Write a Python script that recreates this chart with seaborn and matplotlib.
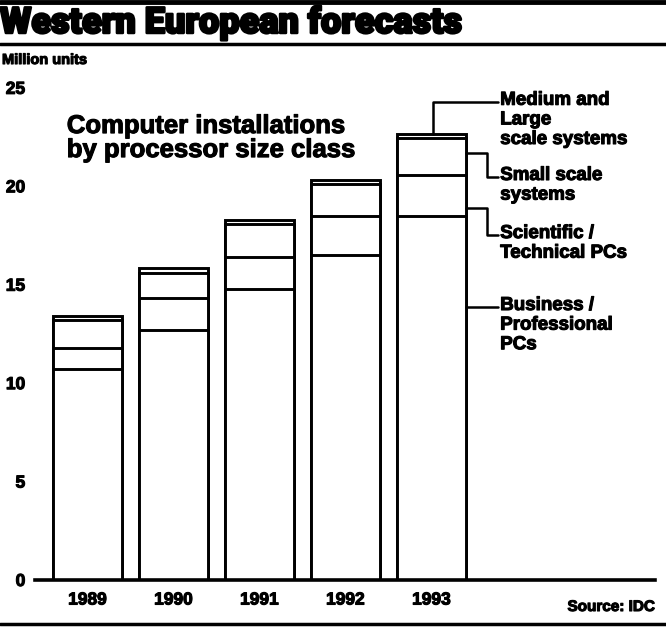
import matplotlib
matplotlib.use("Agg")
import matplotlib.pyplot as plt
import matplotlib.patheffects as pe
import seaborn as sns
import pandas as pd

# Installed base, million units
years = ["1989", "1990", "1991", "1992", "1993"]
business_pcs = [10.7, 12.7, 14.8, 16.5, 18.5]
scientific_pcs = [1.1, 1.6, 1.6, 2.0, 2.05]
small_scale = [1.4, 1.3, 1.7, 1.6, 1.9]
medium_large = [0.22, 0.25, 0.2, 0.22, 0.2]

y_ticks = [0, 5, 10, 15, 20, 25]

df = pd.DataFrame({
    "year": years,
    "Business / Professional PCs": business_pcs,
    "Scientific / Technical PCs": scientific_pcs,
    "Small scale systems": small_scale,
    "Medium and Large scale systems": medium_large,
})
series = ["Business / Professional PCs", "Scientific / Technical PCs",
          "Small scale systems", "Medium and Large scale systems"]
cum = df[series].cumsum(axis=1)

sns.set_theme(style="white")
plt.rcParams["font.family"] = ["Liberation Sans", "DejaVu Sans"]

W, H = 666, 629
fig = plt.figure(figsize=(W / 100, H / 100), dpi=100)

# axes placed in pixel terms: x 35..655, y baseline at 580
ax_left, ax_right = 35, 655
ax_bottom, ax_top = 580, 78
ax = fig.add_axes([ax_left / W, 1 - ax_bottom / H,
                   (ax_right - ax_left) / W, (ax_bottom - ax_top) / H])

bar_w = 0.81
lw = 2.1
# layered cumulative totals, tallest first
for s in reversed(series):
    sns.barplot(x=df["year"], y=cum[s], ax=ax, color="white",
                edgecolor="black", linewidth=lw, width=bar_w,
                saturation=1, zorder=3)

ax.set_xlim(-0.61, 6.6)
ax.set_ylim(0, 25.5)
ax.set_xlabel("")
ax.set_ylabel("")
ax.set_facecolor("white")
for sp in ["top", "right", "left"]:
    ax.spines[sp].set_visible(False)
ax.spines["bottom"].set_linewidth(2.6)
ax.spines["bottom"].set_color("black")
ax.spines["bottom"].set_zorder(5)

heavy = [pe.withStroke(linewidth=0.8, foreground="black")]

ax.set_yticks(y_ticks)
ax.set_yticklabels([str(t) for t in y_ticks])
ax.tick_params(axis="both", length=0)
ax.tick_params(axis="y", pad=7)
ax.tick_params(axis="x", pad=9)
for lab in ax.get_yticklabels() + ax.get_xticklabels():
    lab.set_fontweight("bold")
    lab.set_fontsize(12.5)
    lab.set_color("black")
    lab.set_path_effects(heavy)

# chart label inside the plot
ax.text(-0.24, 22.45, "Computer installations\nby processor size class",
        fontsize=18.5, fontweight="bold", ha="left", va="center",
        linespacing=1.0, color="black", zorder=6, path_effects=heavy)

# leader lines for the last bar
last = len(years) - 1
right_edge = last + bar_w / 2
tx = 4.80
knee = 4.65
top_total = cum[series[-1]].iloc[last]
lead_kw = dict(color="black", lw=1.8, clip_on=False, zorder=6)
txt_kw = dict(fontsize=13.5, fontweight="bold", ha="left", va="top",
              linespacing=1.2, color="black", path_effects=heavy)
off = 0.5

ax.plot([4.02, 4.02, tx - 0.02], [top_total, 24.3, 24.3], **lead_kw)
ax.text(tx, 24.3 + off, "Medium and\nLarge\nscale systems", **txt_kw)

sm_lo = cum[series[1]].iloc[last]
sm_hi = cum[series[2]].iloc[last]
sm_y = sm_lo + 0.59 * (sm_hi - sm_lo)
ax.plot([right_edge, knee, knee, tx - 0.02], [sm_y, sm_y, 20.48, 20.48], **lead_kw)
ax.text(tx, 20.48 + off, "Small scale\nsystems", **txt_kw)

sc_lo = cum[series[0]].iloc[last]
sc_hi = cum[series[1]].iloc[last]
sc_y = sc_lo + 0.19 * (sc_hi - sc_lo)
ax.plot([right_edge, knee, knee, tx - 0.02], [sc_y, sc_y, 17.53, 17.53], **lead_kw)
ax.text(tx, 17.53 + off, "Scientific /\nTechnical PCs", **txt_kw)

bu_y = 0.75 * sc_lo
ax.plot([right_edge, tx - 0.02], [bu_y, bu_y], **lead_kw)
ax.text(tx, bu_y + off, "Business /\nProfessional\nPCs", **txt_kw)

# header, rules and source
fig.text(0.0, 1 - 23 / H, "Western European forecasts", fontsize=26,
         fontweight="black", family=["Roboto", "DejaVu Sans"],
         ha="left", va="center", color="black",
         path_effects=[pe.withStroke(linewidth=1.8, foreground="black")])
fig.text(2 / W, 1 - 60 / H, "Million units", fontsize=10.5,
         fontweight="bold", ha="left", va="center", color="black",
         path_effects=heavy)
fig.text(655 / W, 1 - 607 / H, "Source: IDC", fontsize=11,
         fontweight="bold", ha="right", va="center", color="black",
         path_effects=heavy)

for y_px, w in [(2, 3.5), (44, 2.5), (624, 2.5)]:
    fig.add_artist(plt.Line2D([0, 1], [1 - y_px / H, 1 - y_px / H],
                              color="black", lw=w, transform=fig.transFigure))

fig.savefig("out.png", dpi=100, facecolor="white")
